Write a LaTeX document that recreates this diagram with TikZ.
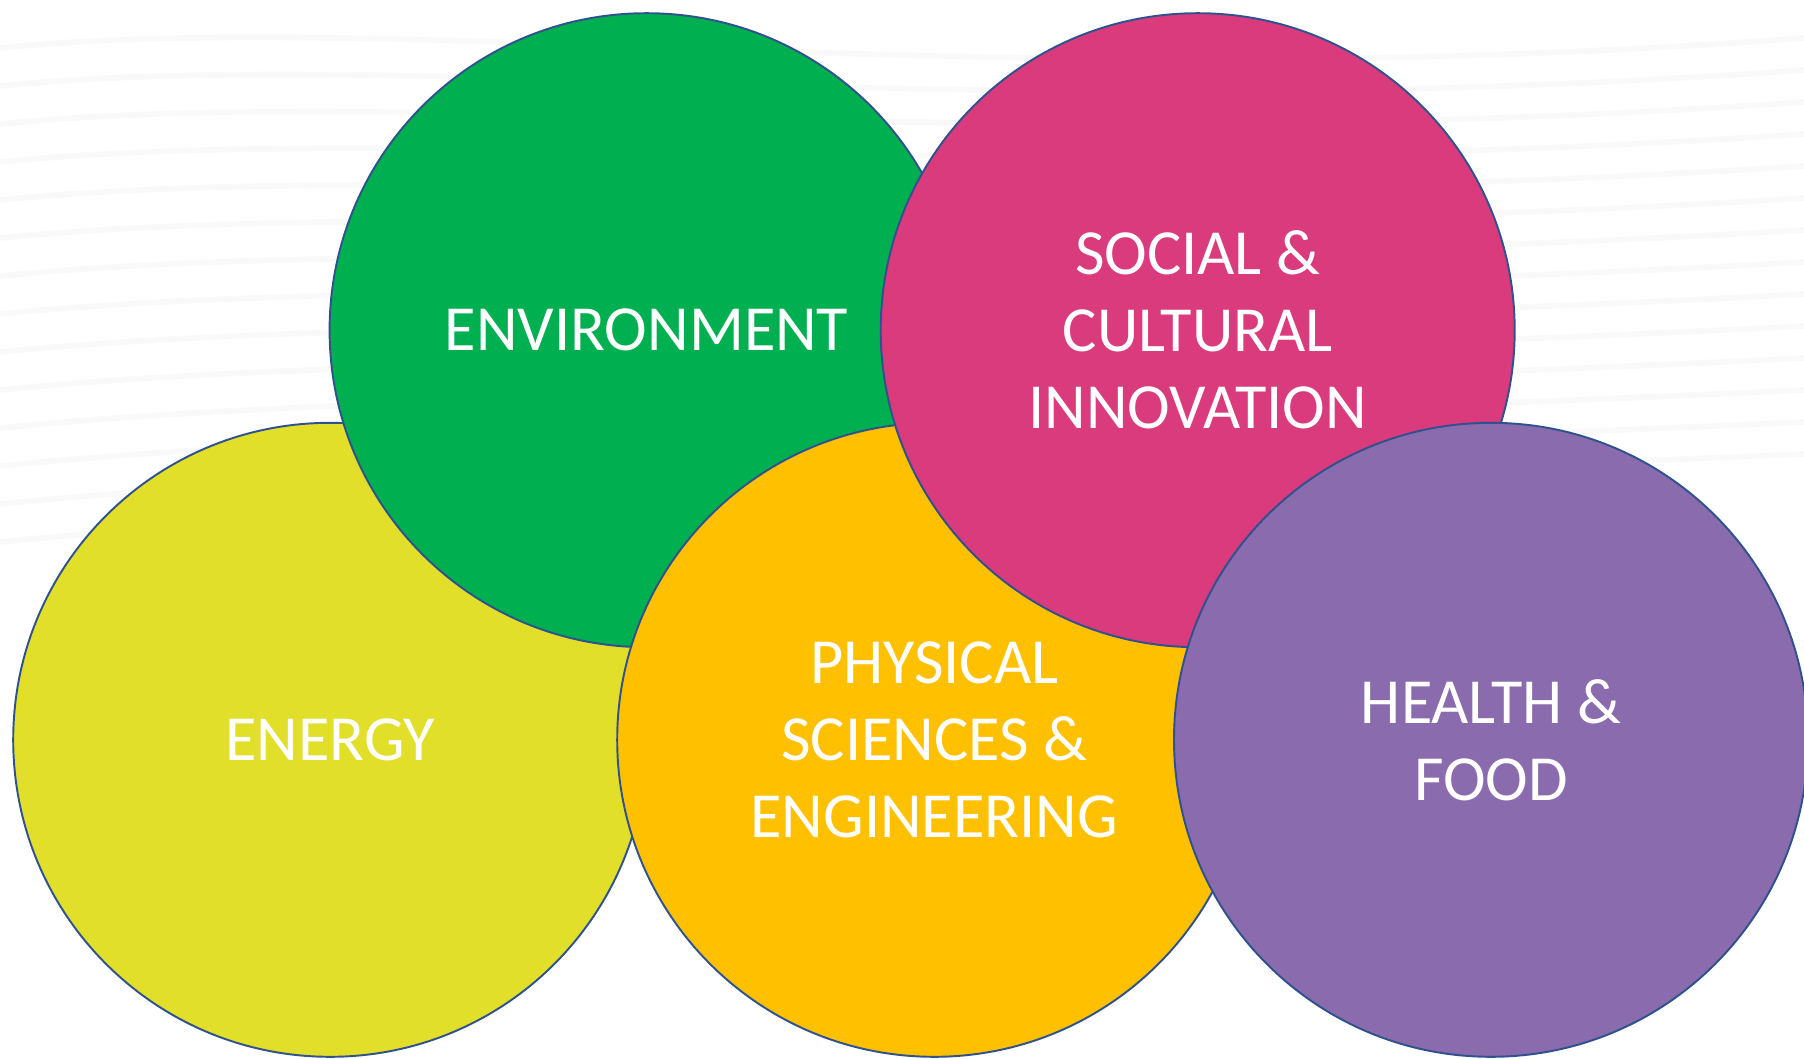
\documentclass[tikz,border=0pt]{standalone}
\usepackage{fontspec}
\setmainfont{Carlito}
\usetikzlibrary{calc}

\definecolor{envgreen}{RGB}{0,176,80}
\definecolor{socpink}{RGB}{218,59,124}
\definecolor{enyellow}{RGB}{226,223,43}
\definecolor{physorange}{RGB}{255,192,0}
\definecolor{hfpurple}{RGB}{138,107,173}
\definecolor{rimblue}{RGB}{47,82,143}

\begin{document}
\begin{tikzpicture}[
	area/.style={circle, draw=rimblue, line width=0.55pt, inner sep=0pt,
		minimum size=2*\radius cm, text=white, align=center,
		font=\fontsize{18.3}{21.9}\selectfont},
	wave/.style={black!2.5, line width=1.6pt}
]

% parameters %{{{2

	\def\radius{3.17}
	\def\toprow{7.278}
	\def\botrow{3.182}

% frame %{{{2

	\useasboundingbox (0,0) rectangle (18.04,10.58);
	\fill[white] (0,0) rectangle (18.04,10.58);

% background waves %{{{2

	\foreach \i in {0,...,13} {
		\draw[wave] (0,{10.1-0.38*\i}) .. controls (4,{10.5-0.38*\i}) and (10,{9.6-0.3*\i}) .. (18.04,{10.2-0.32*\i});
	}

% circles %{{{2

	\node[area, fill=enyellow]   (energy) at (3.302,\botrow) {ENERGY};
	\node[area, fill=envgreen]   (env)    at (6.466,\toprow) {ENVIRONMENT};
	\node[area, fill=physorange] (phys)   at (9.342,\botrow) {PHYSICAL\\SCIENCES \&\\ENGINEERING};
	\node[area, fill=socpink]    (social) at (11.977,\toprow) {SOCIAL \&\\CULTURAL\\INNOVATION};
	\node[area, fill=hfpurple]   (health) at (14.91,\botrow) {HEALTH \&\\FOOD};

% closing %{{{2

\end{tikzpicture}
\end{document}
